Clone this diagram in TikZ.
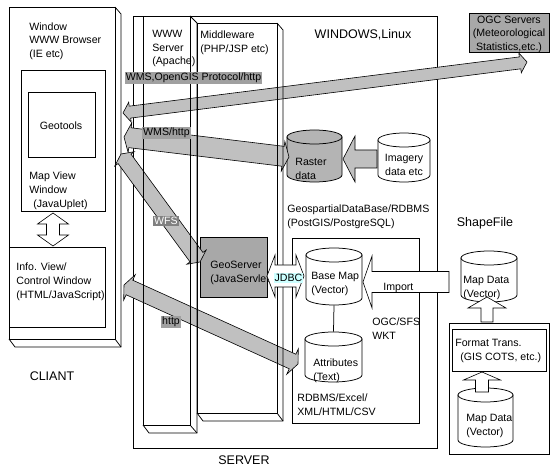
\documentclass[tikz,border=0pt]{standalone}
\usepackage{fontspec}
\setmainfont{Liberation Sans}
\usetikzlibrary{calc,fit}
\definecolor{arrowgray}{HTML}{C0C0C0}
\definecolor{boxgray}{HTML}{A8A8A8}
\definecolor{cylgray}{HTML}{B4B4B4}
\definecolor{lblgray}{HTML}{A0A0A0}
\definecolor{lbldark}{HTML}{808080}
\definecolor{jdbccyan}{HTML}{CCFFFF}
% double block arrow: #1 end A, #2 end B, #3 half shaft, #4 half head, #5 head length, #6 style
\newcommand\dblblk[6]{%
 \draw[#6] (#1)
 -- ($(#1)!#5!(#2)!#4!90:(#2)$)
 -- ($(#1)!#5!(#2)!#3!90:(#2)$)
 -- ($(#2)!#5!(#1)!#3!-90:(#1)$)
 -- ($(#2)!#5!(#1)!#4!-90:(#1)$)
 -- (#2)
 -- ($(#2)!#5!(#1)!#4!90:(#1)$)
 -- ($(#2)!#5!(#1)!#3!90:(#1)$)
 -- ($(#1)!#5!(#2)!#3!-90:(#2)$)
 -- ($(#1)!#5!(#2)!#4!-90:(#2)$)
 -- cycle;}
% single block arrow: #1 tail, #2 tip
\newcommand\sglblk[6]{%
 \draw[#6] ($(#1)!#3!90:(#2)$)
 -- ($(#2)!#5!(#1)!#3!-90:(#1)$)
 -- ($(#2)!#5!(#1)!#4!-90:(#1)$)
 -- (#2)
 -- ($(#2)!#5!(#1)!#4!90:(#1)$)
 -- ($(#2)!#5!(#1)!#3!90:(#1)$)
 -- ($(#1)!#3!-90:(#2)$)
 -- cycle;}
% cylinder: #1 name, #2 x1, #3 y1, #4 x2, #5 y2, #6 fill
\newcommand\dbcyl[6]{%
 \pgfmathsetmacro\cylrx{(#4-#2)/2}%
 \pgfmathsetmacro\cylcx{(#4+#2)/2}%
 \draw[fill=#6] (#2,#3+7) -- (#2,#5-7) arc[start angle=180,end angle=360,x radius=\cylrx pt,y radius=7pt] -- (#4,#3+7) -- cycle;
 \draw[fill=#6] (\cylcx,#3+7) ellipse[x radius=\cylrx pt,y radius=7pt];
 \node[fit={(#2,#3) (#4,#5)},inner sep=0pt] (#1) {};}
\begin{document}
\begin{tikzpicture}[x=1pt,y=-1pt,line width=0.75pt,
 txt/.style={inner sep=0pt,anchor=north west,align=left,font=\fontsize{10.6}{13.6}\selectfont},
 ctxt/.style={inner sep=0pt,align=center,font=\fontsize{10.6}{13.6}\selectfont},
 big/.style={inner sep=0pt,font=\fontsize{12.5}{15}\selectfont},
 lbl/.style={fill=lblgray,inner xsep=0.8pt,inner ysep=1pt,font=\fontsize{10.6}{12}\selectfont},
 frame/.style={draw=black,inner sep=0pt},
 garrow/.style={draw=black,fill=arrowgray,line width=0.6pt},
 warrow/.style={draw=black,fill=white,line width=0.6pt}]
\useasboundingbox (0,0) rectangle (550,468);

% ---------- server frame ----------
\node[frame,fit={(133,16) (437,448)}] (server) {};
\node[big] (serverlbl) at (244,460) {SERVER};
\node[big] (oslbl) at (363,35) {WINDOWS,Linux};

% ---------- client ----------
\draw (115,7) -- (121,14) -- (121,347) -- (15,347) -- (9,339);
\draw (115,339) -- (121,347);
\node[frame,fit={(9,7) (115,339)}] (client) {};
\node[frame,fit={(21,70) (105,211)}] (mapview) {};
\node[frame,fit={(28,92) (95,157)}] (geotools) {};
\node[frame,fit={(9,247) (105,327)}] (info) {};
\node[txt] (browsertxt) at (29,22.3) {Window\\WWW Browser\\(IE etc)};
\node[ctxt] (geotxt) at (61,126) {Geotools};
\node[txt] (mapviewtxt) at (29,171.8) {Map View\\Window\\\hspace{4pt}(JavaUplet)};
\node[txt] (infotxt) at (16,262.8) {Info. View/\\Control Window\\(HTML/JavaScript)};
\node[big] (clientlbl) at (52,376) {CLIANT};
\coordinate (cvA) at (53,213);
\coordinate (cvB) at (53,246);
\dblblk{cvA}{cvB}{6.5pt}{15.5pt}{11pt}{warrow}

% ---------- OGC servers ----------
\node[frame,fill=boxgray,fit={(469,13) (549,52)}] (ogc) {};
\node[ctxt] (ogctxt) at (509,34) {OGC Servers\\(Meteorological\\Statistics,etc.)};

% ---------- database box ----------
\node[frame,fit={(292,238) (419,423)}] (dbbox) {};
\node[txt] (gdbtxt) at (287,204.8) {GeospartialDataBase/RDBMS\\(PostGIS/PostgreSQL)};

% ---------- cylinders ----------
\dbcyl{raster}{287}{130}{342}{182}{cylgray}
\node[txt] (rastertxt) at (295,157.8) {Raster\\data};
\dbcyl{imagery}{378}{133}{430}{182}{white}
\node[ctxt] (imagerytxt) at (404,165) {Imagery\\data etc};
\dbcyl{basemap}{306}{248}{362}{305}{white}
\node[txt] (basemaptxt) at (311,271.8) {Base Map\\(Vector)};
\dbcyl{attr}{305}{332}{362}{382}{white}
\node[txt] (attrtxt) at (313,358.8) {Attributes\\(Text)};
\draw (basemap.south) -- (attr.north);
\node[txt] (sfstxt) at (372,317.8) {OGC/SFS\\WKT};
\node[txt] (rdbmstxt) at (297,393.8) {RDBMS/Excel/\\XML/HTML/CSV};

% ---------- shapefile side ----------
\node[big] (shplbl) at (485,223) {ShapeFile};
\dbcyl{mapdata}{461}{251}{517}{302}{white}
\node[txt] (mapdatatxt) at (463,275.8) {Map Data\\(Vector)};
\node[frame,fit={(449,323) (549,454)}] (fmtouter) {};
\node[frame,fit={(452,329) (546,371)}] (fmt) {};
\node[txt] (fmttxt) at (455,338.8) {Format Trans.\\\hspace{5pt}(GIS COTS, etc.)};
\dbcyl{mapdata2}{458}{388}{513}{447}{white}
\node[txt] (mapdata2txt) at (466,413.8) {Map Data\\(Vector)};
\coordinate (upAt) at (487,322);
\coordinate (upAh) at (487,297);
\sglblk{upAt}{upAh}{6pt}{19pt}{11pt}{warrow}
\coordinate (upBt) at (482,392);
\coordinate (upBh) at (482,372);
\sglblk{upBt}{upBh}{6.5pt}{18.5pt}{8pt}{warrow}

% ---------- GeoServer ----------
\node[frame,fill=boxgray,fit={(200,237) (267,297)}] (geoserver) {};
\node[txt] (geoservertxt) at (210,260.8) {GeoServer\\(JavaServlet)};

% ---------- gray arrows ----------
\coordinate (imgT) at (377,159);
\coordinate (imgH) at (343,159);
\sglblk{imgT}{imgH}{9pt}{23pt}{12pt}{garrow}
\coordinate (a1l) at (123,113);
\coordinate (a1r) at (527,62);
\dblblk{a1l}{a1r}{6pt}{10pt}{7pt}{garrow}
\coordinate (a2l) at (124,137);
\coordinate (a2r) at (289,157);
\dblblk{a2l}{a2r}{10pt}{15pt}{6pt}{garrow}
\coordinate (a3l) at (121,154);
\coordinate (a3r) at (200,262);
\dblblk{a3l}{a3r}{8pt}{12pt}{6pt}{garrow}
\coordinate (a4l) at (124,285);
\coordinate (a4r) at (298,364);
\dblblk{a4l}{a4r}{8pt}{14pt}{6pt}{garrow}

% ---------- server columns (outlines on top) ----------
\node[frame,fit={(143,16) (190,425)}] (www) {};
\draw (190,16) -- (197,23) -- (197,433) -- (149,433) -- (143,425);
\draw (190,425) -- (197,433);
\node[frame,fit={(197,23) (277,413)}] (mid) {};
\draw (277,23) -- (283,30) -- (283,421) -- (203,421) -- (197,413);
\draw (277,413) -- (283,421);
\node[txt] (wwwtxt) at (152,29.8) {WWW\\Server\\(Apache)};
\node[txt] (midtxt) at (200,30.8) {Middleware\\(PHP/JSP etc)};

% ---------- labels ----------
\node[lbl] (l1) at (193.5,78) {WMS,OpenGIS Protocol/http};
\node[lbl] (l2) at (166.5,133) {WMS/http};
\node[lbl,fill=lbldark,text=white] (l3) at (166,221) {WFS};
\node[lbl] (l4) at (171,322) {http};

% ---------- JDBC and Import ----------
\coordinate (jA) at (267,276);
\coordinate (jB) at (304,276);
\dblblk{jA}{jB}{11pt}{21pt}{8pt}{warrow}
\node[lbl,fill=jdbccyan] (jdbc) at (288.5,278) {JDBC};
\coordinate (impT) at (449,282);
\coordinate (impH) at (363,282);
\sglblk{impT}{impH}{10.5pt}{26pt}{9pt}{warrow}
\node[txt] (imptxt) at (383,282.8) {Import};
\end{tikzpicture}
\end{document}
